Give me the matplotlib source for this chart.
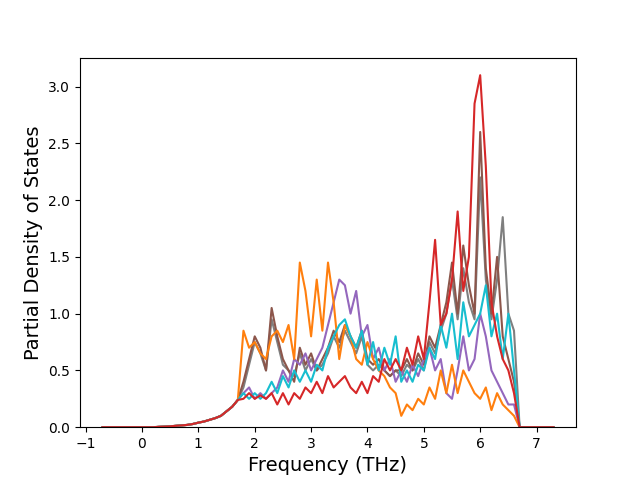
import numpy as np
import matplotlib
matplotlib.use("Agg")
import matplotlib.pyplot as plt

# frequency grid (THz), -0.7 .. 7.3 in 0.1 steps
freq = np.round(np.arange(-0.7, 7.31, 0.1), 1)

# shared low-frequency tail (-0.7 .. 1.7) and empty top (6.9 .. 7.3)
low = [0, 0, 0, 0, 0, 0, 0,
       0, 0, 0, 0.003, 0.005, 0.008, 0.012, 0.016, 0.02, 0.028,
       0.04, 0.05, 0.065, 0.08, 0.1, 0.14, 0.18, 0.24]
top = [0, 0, 0, 0, 0]

# 1.8 .. 6.8
orange = [0.85, 0.7, 0.75, 0.65, 0.6, 0.8, 0.85, 0.75, 0.9, 0.6,
          1.45, 1.2, 0.8, 1.3, 0.85, 1.45, 1.1, 0.6, 0.9, 0.8,
          0.6, 0.55, 0.75, 0.6, 0.5, 0.45, 0.35, 0.3, 0.1, 0.2,
          0.15, 0.25, 0.2, 0.35, 0.25, 0.5, 0.3, 0.55, 0.3, 0.5,
          0.4, 0.3, 0.25, 0.35, 0.15, 0.3, 0.2, 0.15, 0.1, 0.0,
          0.0]
red = [0.25, 0.3, 0.25, 0.28, 0.25, 0.3, 0.2, 0.3, 0.2, 0.3,
       0.25, 0.35, 0.3, 0.4, 0.3, 0.45, 0.35, 0.4, 0.45, 0.35,
       0.3, 0.4, 0.3, 0.45, 0.4, 0.6, 0.5, 0.6, 0.5, 0.7,
       0.55, 0.8, 0.6, 1.1, 1.65, 0.9, 1.0, 1.3, 1.9, 1.2,
       1.5, 2.85, 3.1, 2.3, 1.1, 0.8, 0.6, 0.5, 0.3, 0.0,
       0.0]
purple = [0.3, 0.35, 0.25, 0.3, 0.25, 0.3, 0.35, 0.5, 0.4, 0.6,
          0.55, 0.65, 0.5, 0.6, 0.7, 0.9, 1.1, 1.3, 1.25, 1.0,
          1.2, 0.8, 0.9, 0.6, 0.7, 0.5, 0.6, 0.4, 0.5, 0.4,
          0.55, 0.45, 0.6, 0.7, 0.5, 0.6, 0.3, 0.25, 0.5, 0.8,
          0.5, 0.6, 1.0, 0.8, 0.5, 0.4, 0.3, 0.2, 0.2, 0.0,
          0.0]
brown = [0.4, 0.6, 0.8, 0.7, 0.5, 1.05, 0.8, 0.6, 0.5, 0.4,
         0.7, 0.55, 0.65, 0.5, 0.6, 0.7, 0.85, 0.75, 0.9, 0.8,
         0.7, 0.85, 0.6, 0.55, 0.6, 0.5, 0.45, 0.5, 0.5, 0.6,
         0.5, 0.65, 0.55, 0.8, 0.7, 0.9, 1.1, 1.45, 1.0, 1.6,
         1.25, 1.0, 2.6, 1.4, 1.0, 1.5, 0.8, 0.6, 0.4, 0.0,
         0.0]
gray = [0.35, 0.55, 0.75, 0.65, 0.5, 0.95, 0.75, 0.55, 0.5, 0.45,
        0.65, 0.5, 0.6, 0.5, 0.55, 0.65, 0.8, 0.7, 0.85, 0.75,
        0.65, 0.8, 0.55, 0.5, 0.55, 0.5, 0.45, 0.5, 0.45, 0.55,
        0.5, 0.6, 0.5, 0.75, 0.65, 0.85, 1.0, 1.3, 0.95, 1.4,
        1.1, 0.95, 2.2, 1.3, 0.95, 1.3, 1.85, 1.0, 0.85, 0.0,
        0.0]
cyan = [0.3, 0.25, 0.3, 0.25, 0.3, 0.4, 0.3, 0.45, 0.35, 0.5,
        0.4, 0.5, 0.4, 0.55, 0.5, 0.7, 0.8, 0.9, 0.95, 0.8,
        0.7, 0.85, 0.55, 0.75, 0.5, 0.7, 0.55, 0.8, 0.4, 0.5,
        0.4, 0.55, 0.5, 0.7, 0.6, 0.9, 0.7, 1.0, 0.6, 1.1,
        0.8, 0.9, 1.0, 1.25, 0.8, 1.0, 0.6, 1.0, 0.5, 0.0,
        0.0]

series = [(gray, "tab:gray"), (brown, "tab:brown"), (purple, "tab:purple"),
          (orange, "tab:orange"), (cyan, "tab:cyan"), (red, "tab:red")]

fig, ax = plt.subplots(figsize=(6.4, 4.8), dpi=100)
for vals, col in series:
    y = low + vals + top
    assert len(y) == len(freq)
    ax.plot(freq, y, color=col, linewidth=1.5)

ax.set_ylim(bottom=0)
ax.set_xlabel("Frequency (THz)", fontsize=14)
ax.set_ylabel("Partial Density of States", fontsize=14)
fig.savefig("out.png")
